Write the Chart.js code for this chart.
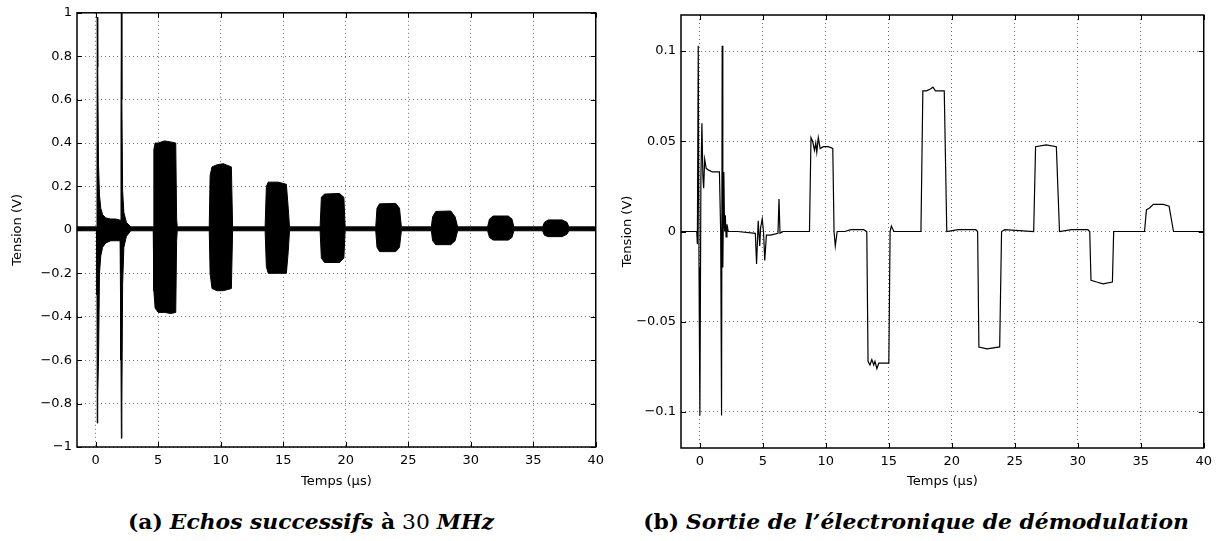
<!DOCTYPE html>
<html><head><meta charset="utf-8">
<script src="https://cdn.jsdelivr.net/npm/chart.js@4/dist/chart.umd.min.js"></script>
<style>
body{margin:0;background:#fff;width:1218px;height:541px;overflow:hidden;position:relative;}
.box{position:absolute;top:0;}
.cap{position:absolute;top:512px;font-family:'DejaVu Serif',serif;font-size:19.5px;line-height:22px;white-space:nowrap;transform:translateX(-50%) scaleX(1.12);color:#000;}
</style></head><body>
<div class="box" style="left:0;width:610px;height:500px"><canvas id="c1" width="610" height="500"></canvas></div>
<div class="box" style="left:610px;width:608px;height:500px"><canvas id="c2" width="608" height="500"></canvas></div>
<div class="cap" style="left:311px"><b>(a)</b> <b><i>Echos successifs</i> à</b> 30 <b><i>MHz</i></b></div>
<div class="cap" style="left:916px"><b>(b)</b> <b><i>Sortie de l’électronique de démodulation</i></b></div>
<script>
// ---- data (a): envelope of the 30 MHz echo signal ----
const leftT = [-1.5,0.06,0.1,0.12,0.16,0.22,0.3,0.4,0.55,0.8,1.2,1.6,1.95,2.02,2.05,2.09,2.15,2.25,2.45,2.8,
  4.6,4.65,4.75,5.0,5.5,6.0,6.4,6.47,6.52,
  9.08,9.15,9.3,9.7,10.2,10.85,10.95,
  13.55,13.65,13.8,14.6,15.25,15.4,15.5,
  17.95,18.05,18.3,19.5,19.85,19.95,
  22.4,22.5,22.7,24.0,24.3,24.45,
  26.85,26.95,27.2,28.4,28.75,28.95,
  31.35,31.5,31.8,33.0,33.3,33.45,
  35.75,35.9,36.2,37.3,37.7,37.85,40];
const leftUpper = [0.014,0.014,0.3,0.98,0.75,0.3,0.16,0.1,0.07,0.055,0.05,0.05,0.045,0.5,1.0,0.6,0.18,0.08,0.035,0.014,
  0.014,0.37,0.40,0.40,0.41,0.405,0.40,0.05,0.014,
  0.014,0.25,0.29,0.30,0.305,0.29,0.014,
  0.014,0.2,0.22,0.22,0.21,0.1,0.014,
  0.014,0.15,0.165,0.168,0.15,0.014,
  0.014,0.1,0.12,0.122,0.1,0.014,
  0.014,0.06,0.085,0.087,0.06,0.014,
  0.014,0.05,0.064,0.064,0.05,0.014,
  0.014,0.035,0.046,0.046,0.035,0.014,0.014];
const leftLower = [-0.004,-0.004,-0.3,-0.89,-0.76,-0.6,-0.2,-0.12,-0.08,-0.06,-0.05,-0.05,-0.05,-0.6,-0.96,-0.8,-0.25,-0.08,-0.03,-0.004,
  -0.004,-0.28,-0.36,-0.38,-0.38,-0.385,-0.38,-0.05,-0.004,
  -0.004,-0.2,-0.27,-0.28,-0.28,-0.27,-0.004,
  -0.004,-0.17,-0.2,-0.2,-0.2,-0.1,-0.004,
  -0.004,-0.13,-0.15,-0.15,-0.13,-0.004,
  -0.004,-0.08,-0.1,-0.1,-0.08,-0.004,
  -0.004,-0.05,-0.068,-0.068,-0.05,-0.004,
  -0.004,-0.035,-0.047,-0.047,-0.035,-0.004,
  -0.004,-0.025,-0.031,-0.031,-0.02,-0.004,-0.004];
const leftXTicks = [0,5,10,15,20,25,30,35,40];
const leftYTicks = [-1,-0.8,-0.6,-0.4,-0.2,0,0.2,0.4,0.6,0.8,1];

// ---- data (b): demodulated output ----
const rightT = [-1.5,-0.25,-0.2,-0.13,-0.07,0.0,0.08,0.16,0.24,0.3,0.38,0.5,0.7,1.0,1.55,1.65,1.72,1.77,1.82,1.9,1.96,2.02,2.08,2.15,2.25,3.0,
  4.4,4.5,4.63,4.75,4.82,4.95,5.05,5.15,5.28,5.6,6.2,6.28,6.36,6.6,
  8.7,8.82,8.95,9.1,9.2,9.28,9.4,9.55,9.8,10.2,10.55,10.65,10.75,10.9,11.5,12.0,13.0,
  13.25,13.35,13.5,13.65,13.8,13.9,14.05,14.2,15.0,15.1,15.2,15.4,
  17.55,17.7,18.0,18.3,18.5,18.7,19.4,19.6,20.5,21.9,
  22.05,22.15,22.8,23.8,23.95,24.2,
  26.5,26.65,27.5,28.3,28.55,29.5,30.8,
  30.95,31.05,31.5,32.0,32.75,32.85,
  35.3,35.45,35.7,36.0,36.8,37.25,37.6,40];
const rightV = [0,0,-0.007,0.103,-0.02,-0.102,0.03,0.06,0.03,0.024,0.04,0.035,0.034,0.033,0.033,0.0,-0.102,0.103,-0.02,0.033,0.0,0.009,-0.003,0.004,0.0,0.0,
  -0.001,-0.018,0.006,-0.008,0.002,0.007,0.0,-0.016,-0.002,-0.002,-0.001,0.018,-0.001,0.0,
  0.0,0.052,0.05,0.045,0.049,0.044,0.052,0.046,0.047,0.047,0.046,0.0,-0.008,0.0,0.0,0.001,0.001,
  0.0,-0.072,-0.074,-0.071,-0.074,-0.072,-0.076,-0.073,-0.073,0.0,0.003,0.0,
  0.0,0.078,0.078,0.079,0.080,0.078,0.078,0.0,0.001,0.001,
  0.0,-0.064,-0.065,-0.064,0.0,0.001,
  0.0,0.047,0.048,0.047,0.0,0.001,0.001,
  0.0,-0.027,-0.028,-0.029,-0.028,0.0,
  0.0,0.012,0.013,0.015,0.015,0.014,0.0,0.0];
const rightXTicks = [0,5,10,15,20,25,30,35,40];
const rightYTicks = [-0.1,-0.05,0,0.05,0.1];

// ---- helpers ----
const pts = (xs, ys) => xs.map((x, i) => ({x, y: ys[i]}));
const fmt = v => (v < 0 ? '\u2212' : '') + String(Math.abs(v));
const FONT = 'DejaVu Sans';

const frame = {
  id: 'frame',
  afterDatasetsDraw(chart) {
    const {ctx, chartArea: a, scales: {x, y}} = chart;
    ctx.save();
    ctx.strokeStyle = '#000';
    ctx.lineWidth = 1;
    ctx.beginPath();
    x.ticks.forEach(t => {
      const p = Math.round(x.getPixelForValue(t.value)) + 0.5;
      ctx.moveTo(p, a.bottom); ctx.lineTo(p, a.bottom - 5);
      ctx.moveTo(p, a.top); ctx.lineTo(p, a.top + 5);
    });
    y.ticks.forEach(t => {
      const p = Math.round(y.getPixelForValue(t.value)) + 0.5;
      ctx.moveTo(a.left, p); ctx.lineTo(a.left + 5, p);
      ctx.moveTo(a.right, p); ctx.lineTo(a.right - 5, p);
    });
    ctx.stroke();
    ctx.lineWidth = 1.5;
    ctx.strokeRect(a.left, a.top, a.right - a.left, a.bottom - a.top);
    ctx.restore();
  }
};

function makeChart(id, datasets, xTicks, yTicks, yMin, yMax, yWidth, xHeight, padTop, padRight, yTitlePad) {
  return new Chart(document.getElementById(id), {
    type: 'line',
    data: {datasets},
    options: {
      responsive: false, animation: false, devicePixelRatio: 1,
      layout: {padding: {top: padTop, right: padRight, bottom: 0, left: 0}},
      plugins: {legend: {display: false}, tooltip: {enabled: false}},
      elements: {point: {radius: 0}, line: {tension: 0}},
      scales: {
        x: {
          type: 'linear', min: -1.5, max: 40,
          afterBuildTicks: s => { s.ticks = xTicks.map(v => ({value: v})); },
          afterFit: s => { s.height = xHeight; },
          grid: {color: 'rgba(0,0,0,0.55)', lineWidth: 1, drawTicks: false},
          border: {display: false, dash: [1, 3]},
          ticks: {color: '#000', font: {family: FONT, size: 13}, padding: 6, maxRotation: 0, autoSkip: false, callback: v => fmt(v)},
          title: {display: true, text: 'Temps (µs)', color: '#000', font: {family: FONT, size: 13}, padding: {top: 0, bottom: 11}}
        },
        y: {
          type: 'linear', min: yMin, max: yMax,
          afterBuildTicks: s => { s.ticks = yTicks.map(v => ({value: v})); },
          afterFit: s => { s.width = yWidth; },
          grid: {color: 'rgba(0,0,0,0.55)', lineWidth: 1, drawTicks: false},
          border: {display: false, dash: [1, 3]},
          ticks: {color: '#000', font: {family: FONT, size: 13}, padding: 5, autoSkip: false, callback: v => fmt(v)},
          title: {display: true, text: 'Tension (V)', color: '#000', font: {family: FONT, size: 13}, padding: {top: yTitlePad, bottom: 0}}
        }
      }
    },
    plugins: [frame]
  });
}

makeChart('c1', [
  {data: pts(leftT, leftUpper), borderColor: '#000', borderWidth: 1, backgroundColor: '#000', fill: '+1'},
  {data: pts(leftT, leftLower), borderColor: '#000', borderWidth: 1, fill: false}
], leftXTicks, leftYTicks, -1, 1, 77, 53, 12, 11, 10);

makeChart('c2', [
  {data: pts(rightT, rightV), borderColor: '#000', borderWidth: 1.2, fill: false}
], rightXTicks, rightYTicks, -0.12, 0.12, 71, 52, 15, 14, 10);
</script>
</body></html>
